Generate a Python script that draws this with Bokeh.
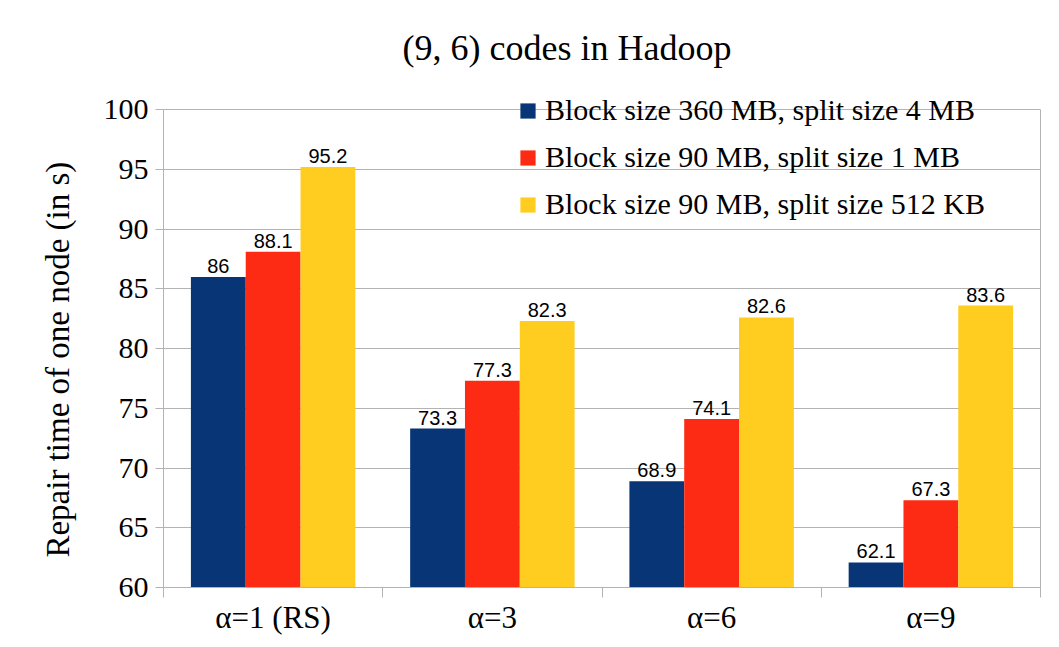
from bokeh.plotting import figure
from bokeh.models import (Range1d, FixedTicker, Legend, LegendItem, ColumnDataSource, Title, LinearAxis)
from bokeh.core.properties import value
from bokeh.embed import file_html
from bokeh.resources import INLINE

categories = ["α=1 (RS)", "α=3", "α=6", "α=9"]
series_names = ["Block size 360 MB, split size 4 MB",
                "Block size 90 MB, split size 1 MB",
                "Block size 90 MB, split size 512 KB"]
s1 = [86, 73.3, 68.9, 62.1]
s2 = [88.1, 77.3, 74.1, 67.3]
s3 = [95.2, 82.3, 82.6, 83.6]
y_ticks = [60, 65, 70, 75, 80, 85, 90, 95, 100]
colors = ["#073576", "#fd2b13", "#fecd1f"]

SERIF = "Liberation Serif"
SANS = "Liberation Sans"
grid_col = "#b3b3b3"

p = figure(frame_width=877, frame_height=497, output_backend="svg", toolbar_location=None,
           x_range=Range1d(0, len(categories)), y_range=Range1d(60, 101.6),
           min_border_left=163, min_border_right=3, min_border_top=90, min_border_bottom=40)
p.outline_line_color = None

t = Title(text="(9, 6) codes in Hadoop", align="left", offset=239,
          text_font=SERIF, text_font_size="36px", text_font_style="normal",
          text_color="black", standoff=45)
p.add_layout(t, "above")

offsets = [-0.25, 0.0, 0.25]
series = [s1, s2, s3]
renderers = []
for off, vals, col in zip(offsets, series, colors):
    xs = [i + 0.5 + off for i in range(len(categories))]
    src = ColumnDataSource(dict(x=xs, top=vals, lab=[f"{v:g}" for v in vals]))
    r = p.vbar(x="x", top="top", bottom=60, width=0.25, source=src,
               fill_color=col, line_color=None)
    renderers.append(r)
    p.text(x="x", y="top", text="lab", source=src, text_align="center",
           text_baseline="alphabetic", y_offset=-11, text_font=value(SANS),
           text_font_size="20px", text_color="black")

legend = Legend(items=[LegendItem(label=n, renderers=[r]) for n, r in zip(series_names, renderers)],
                location=(355, 366), padding=0, margin=0, spacing=13,
                glyph_width=19, glyph_height=19, label_height=34, label_standoff=8,
                label_text_font=SERIF, label_text_font_size="30px", label_text_color="black",
                background_fill_alpha=0, border_line_alpha=0)
p.add_layout(legend, "center")

p.xgrid.visible = False
p.ygrid.grid_line_color = grid_col
p.ygrid.ticker = FixedTicker(ticks=y_ticks)

xa = p.xaxis[0]
xa.ticker = FixedTicker(ticks=[i + 0.5 for i in range(len(categories))],
                        minor_ticks=list(range(len(categories) + 1)))
xa.major_label_overrides = {i + 0.5: c for i, c in enumerate(categories)}
xa.major_tick_line_color = None
xa.major_tick_out = 0
xa.major_tick_in = 0
xa.minor_tick_out = 10
xa.minor_tick_in = 0
xa.minor_tick_line_color = grid_col
xa.axis_line_color = grid_col
xa.major_label_standoff = 2
xa.major_label_text_font = SERIF
xa.major_label_text_font_size = "31px"
xa.major_label_text_color = "black"

ya = p.yaxis[0]
ya.bounds = (60, 100)
ya.ticker = FixedTicker(ticks=y_ticks)
ya.minor_tick_line_color = None
ya.major_tick_out = 8
ya.major_tick_in = 0
ya.major_tick_line_color = grid_col
ya.axis_line_color = grid_col
ya.major_label_standoff = 7
ya.major_label_text_font = SERIF
ya.major_label_text_font_size = "30px"
ya.major_label_text_color = "black"
ya.axis_label = "Repair time of one node (in s)" + "\u00a0" * 5
ya.axis_label_text_font = SERIF
ya.axis_label_text_font_size = "33px"
ya.axis_label_text_font_style = "normal"
ya.axis_label_text_color = "black"
ya.axis_label_standoff = 25

ra = LinearAxis(bounds=(60, 100), ticker=FixedTicker(ticks=[]), axis_line_color=grid_col,
                major_tick_line_color=None, minor_tick_line_color=None,
                major_label_text_font_size="0px")
p.add_layout(ra, "right")

open("out.html", "w").write(file_html(p, INLINE))
